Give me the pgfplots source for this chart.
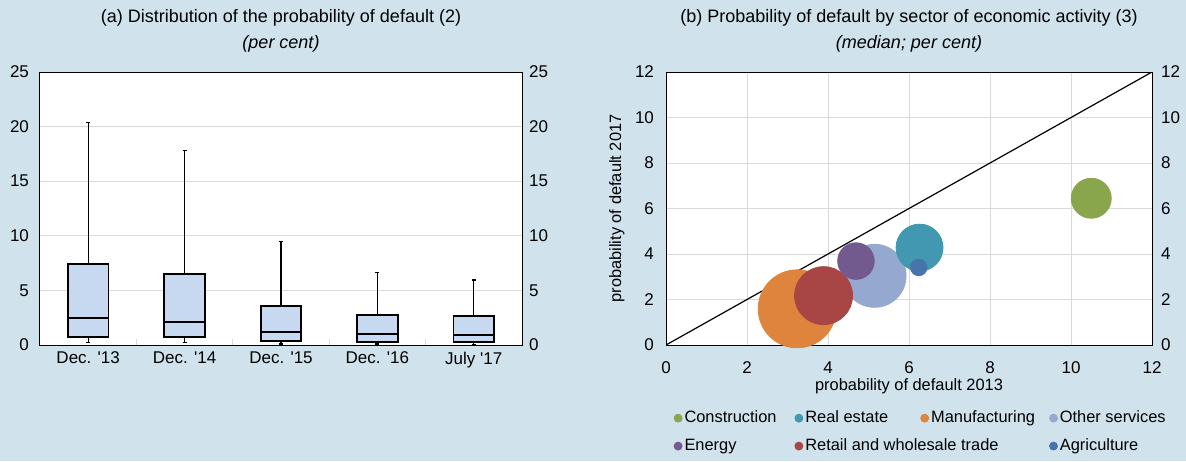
\documentclass[border=0pt]{standalone}
\usepackage{pgfplots}
\pgfplotsset{compat=1.18}
\usepgfplotslibrary{statistics}
\usepackage{fontspec}
\setmainfont{Liberation Sans}

\definecolor{bgblue}{RGB}{208,226,236}
\definecolor{boxfill}{RGB}{198,217,240}
\definecolor{gridgray}{RGB}{218,218,218}
\definecolor{cgreen}{RGB}{137,166,77}
\definecolor{cteal}{RGB}{66,152,176}
\definecolor{corange}{RGB}{222,132,60}
\definecolor{clight}{RGB}{149,169,208}
\definecolor{cpurple}{RGB}{114,89,142}
\definecolor{cred}{RGB}{168,69,69}
\definecolor{cdblue}{RGB}{72,116,172}

\pgfplotsset{
  panel/.style={
    scale only axis, anchor=south west,
    height=136.5pt,
    axis line style={black, line width=0.5pt},
    axis background/.style={fill=white},
    tick label style={font=\fontsize{8.5}{10}\selectfont},
    /pgf/number format/assume math mode=true,
    label style={font=\fontsize{8.2}{10}\selectfont},
    grid style={gridgray, line width=0.4pt},
    major tick length=0pt,
  },
  rightlabels/.style={
    scale only axis, anchor=south west,
    height=136.5pt,
    axis y line*=right, hide x axis,
    axis line style={draw=none},
    tick label style={font=\fontsize{8.5}{10}\selectfont},
    /pgf/number format/assume math mode=true,
    major tick length=0pt,
  },
  bubble/.style={only marks, mark=*, draw=none, fill=#1, color=#1,
    mark options={draw=none, fill=#1}, forget plot},
}

\begin{document}
\begin{tikzpicture}
\path[use as bounding box] (0pt,0pt) rectangle (593pt,230.5pt);
\fill[bgblue] (0pt,0pt) rectangle (593pt,230.5pt);

% titles
\node[font=\fontsize{9}{11}\selectfont] at (140.5pt,221.5pt) {(a) Distribution of the probability of default (2)};
\node[font=\fontsize{9}{11}\selectfont\itshape] at (140.5pt,208.5pt) {(per cent)};
\node[font=\fontsize{9}{11}\selectfont] at (454.5pt,221.5pt) {(b) Probability of default by sector of economic activity (3)};
\node[font=\fontsize{9}{11}\selectfont\itshape] at (454.5pt,208.5pt) {(median; per cent)};

% (a) box plots
\begin{axis}[panel,
  at={(20pt,58pt)}, width=241pt,
  xmin=-0.5, xmax=4.5, ymin=0, ymax=25,
  ytick={0,5,...,25}, ymajorgrids,
  xtick={0,1,2,3,4},
  xticklabels={Dec. \textquotesingle13, Dec. \textquotesingle14, Dec. \textquotesingle15, Dec. \textquotesingle16, July \textquotesingle17},
  minor xtick={0.5,1.5,2.5,3.5}, minor tick length=3pt,
  minor tick style={gridgray, line width=0.6pt},
  xtick pos=bottom, ytick pos=left,
  yticklabel style={xshift=-2pt},
  boxplot/draw direction=y,
  boxplot/every box/.style={line width=0.9pt},
  boxplot/every whisker/.style={line width=0.6pt},
  boxplot/every median/.style={line width=1.1pt},
]
\addplot[draw=black, fill=boxfill, boxplot prepared={draw position=0,
  lower whisker=0.21, lower quartile=0.76, median=2.44,
  upper quartile=7.39, upper whisker=20.36,
  box extend=0.42, whisker extend=0.04}] coordinates {};
\addplot[draw=black, fill=boxfill, boxplot prepared={draw position=1,
  lower whisker=0.21, lower quartile=0.70, median=2.14,
  upper quartile=6.47, upper whisker=17.8,
  box extend=0.42, whisker extend=0.04}] coordinates {};
\addplot[draw=black, fill=boxfill, boxplot prepared={draw position=2,
  lower whisker=0.09, lower quartile=0.37, median=1.22,
  upper quartile=3.60, upper whisker=9.46,
  box extend=0.42, whisker extend=0.04}] coordinates {};
\addplot[draw=black, fill=boxfill, boxplot prepared={draw position=3,
  lower whisker=0.09, lower quartile=0.30, median=1.00,
  upper quartile=2.78, upper whisker=6.65,
  box extend=0.42, whisker extend=0.04}] coordinates {};
\addplot[draw=black, fill=boxfill, boxplot prepared={draw position=4,
  lower whisker=0.06, lower quartile=0.27, median=0.92,
  upper quartile=2.62, upper whisker=5.95,
  box extend=0.42, whisker extend=0.04}] coordinates {};
\end{axis}
\begin{axis}[rightlabels, at={(20pt,58pt)}, width=241pt,
  xmin=-0.5, xmax=4.5, ymin=0, ymax=25, ytick={0,5,...,25}]
\addplot[draw=none] coordinates {(0,0)};
\end{axis}

% (b) bubbles
\begin{axis}[panel,
  at={(333pt,58pt)}, width=243pt,
  xmin=0, xmax=12, ymin=0, ymax=12,
  xtick={0,2,...,12}, ytick={0,2,...,12},
  grid=major,
  xtick pos=bottom, ytick pos=left,
  xticklabel style={yshift=-5pt},
  yticklabel style={xshift=-2.5pt},
  xlabel={probability of default 2013},
  ylabel={probability of default 2017},
  xlabel style={at={(axis description cs:0.5,-0.151)}, anchor=center},
  ylabel style={at={(axis description cs:-0.101,0.5)}, anchor=center},
  legend columns=4,
  legend cell align=left,
  legend style={draw=none, fill=none, inner sep=0pt,
    at={(axis description cs:0.015,-0.232)}, anchor=north west,
    font=\fontsize{8.2}{10}\selectfont,
    /tikz/row sep=4.5pt,
    nodes={inner sep=1pt}},
]
\addlegendimage{legend image code/.code={\fill[cgreen] (2pt,0pt) circle (2pt);}}
\addlegendentry{\makebox[54pt][l]{Construction}}
\addlegendimage{legend image code/.code={\fill[cteal] (2pt,0pt) circle (2pt);}}
\addlegendentry{\makebox[56.5pt][l]{Real estate}}
\addlegendimage{legend image code/.code={\fill[corange] (2pt,0pt) circle (2pt);}}
\addlegendentry{\makebox[58pt][l]{Manufacturing}}
\addlegendimage{legend image code/.code={\fill[clight] (2pt,0pt) circle (2pt);}}
\addlegendentry{Other services}
\addlegendimage{legend image code/.code={\fill[cpurple] (2pt,0pt) circle (2pt);}}
\addlegendentry{\makebox[54pt][l]{Energy}}
\addlegendimage{legend image code/.code={\fill[cred] (2pt,0pt) circle (2pt);}}
\addlegendentry{\makebox[56.5pt][l]{Retail and wholesale trade}}
\addlegendimage{empty legend}
\addlegendentry{\makebox[58pt][l]{}}
\addlegendimage{legend image code/.code={\fill[cdblue] (2pt,0pt) circle (2pt);}}
\addlegendentry{Agriculture}

\addplot[bubble=clight, mark size=15.75pt] coordinates {(5.15,3.04)};
\addplot[bubble=corange, mark size=19.5pt] coordinates {(3.24,1.59)};
\addplot[bubble=cred, mark size=14.5pt] coordinates {(3.89,2.17)};
\addplot[bubble=cpurple, mark size=9.15pt] coordinates {(4.69,3.69)};
\addplot[bubble=cteal, mark size=11.75pt] coordinates {(6.26,4.28)};
\addplot[bubble=cdblue, mark size=4.15pt] coordinates {(6.24,3.41)};
\addplot[bubble=cgreen, mark size=10pt] coordinates {(10.5,6.45)};
\addplot[black, line width=0.6pt, forget plot] coordinates {(0,0) (12,12)};
\end{axis}
\begin{axis}[rightlabels, at={(333pt,58pt)}, width=243pt,
  xmin=0, xmax=12, ymin=0, ymax=12, ytick={0,2,...,12},
  yticklabel style={xshift=1pt}]
\addplot[draw=none] coordinates {(0,0)};
\end{axis}
\end{tikzpicture}
\end{document}
